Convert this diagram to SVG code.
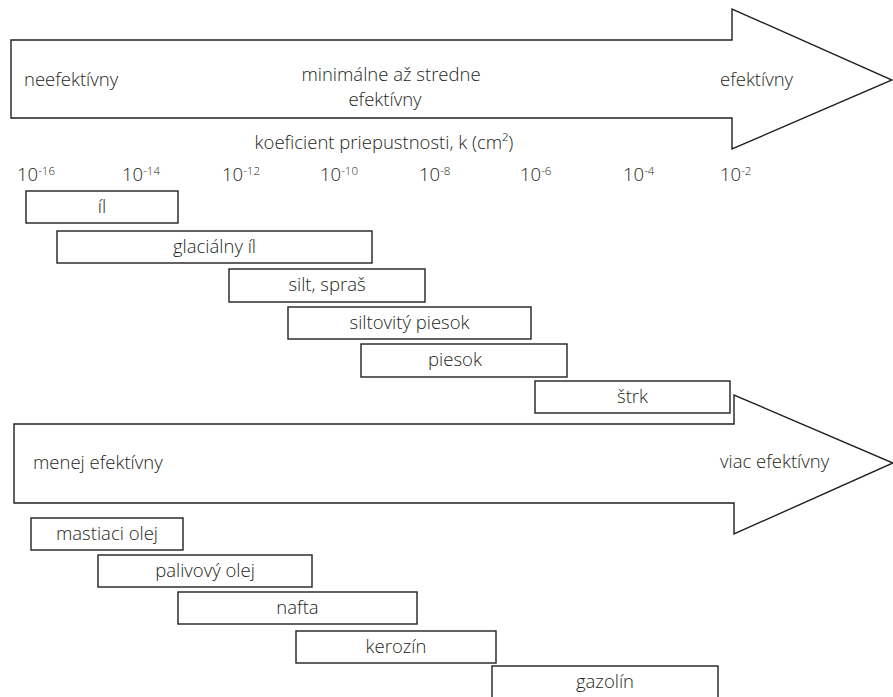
<svg xmlns="http://www.w3.org/2000/svg" width="893" height="697" viewBox="0 0 893 697">
  <style>
    .shape { fill: #ffffff; stroke: #231f20; stroke-width: 1.4; stroke-linejoin: miter; }
    text { font-family: "Open Sans", "Noto Sans", "Liberation Sans", sans-serif; font-weight: 300; font-size: 18.5px; fill: #231f20; }
    .c { text-anchor: middle; }
    .sup { font-size: 11.5px; }
  </style>
  <rect width="893" height="697" fill="#ffffff"/>

  <!-- upper scale: effectiveness arrow -->
  <g id="arrow-top">
    <path class="shape" d="M11,40 H732 V9 L892,80 L732,149 V118 H11 Z"/>
    <text x="24" y="86">neefektívny</text>
    <text class="c" x="391" y="81">minimálne až stredne</text>
    <text class="c" x="385" y="106">efektívny</text>
    <text x="720" y="86">efektívny</text>
  </g>

  <!-- permeability axis -->
  <g id="axis">
    <text class="c" x="384" y="149">koeficient priepustnosti, k (cm²)</text>
    <text x="17" y="181">10<tspan class="sup" dy="-6">-16</tspan></text>
    <text x="122" y="181">10<tspan class="sup" dy="-6">-14</tspan></text>
    <text x="222" y="181">10<tspan class="sup" dy="-6">-12</tspan></text>
    <text x="320" y="181">10<tspan class="sup" dy="-6">-10</tspan></text>
    <text x="419" y="181">10<tspan class="sup" dy="-6">-8</tspan></text>
    <text x="520" y="181">10<tspan class="sup" dy="-6">-6</tspan></text>
    <text x="623" y="181">10<tspan class="sup" dy="-6">-4</tspan></text>
    <text x="720" y="181">10<tspan class="sup" dy="-6">-2</tspan></text>
  </g>

  <!-- soil ranges -->
  <g id="il">
    <rect class="shape" x="26" y="191" width="152" height="32"/>
    <text class="c" x="102" y="213">íl</text>
  </g>
  <g id="glacialny-il">
    <rect class="shape" x="57" y="231" width="315" height="32"/>
    <text class="c" x="214.5" y="253">glaciálny íl</text>
  </g>
  <g id="silt-spras">
    <rect class="shape" x="229" y="269" width="196" height="33"/>
    <text class="c" x="327" y="291">silt, spraš</text>
  </g>
  <g id="siltovity-piesok">
    <rect class="shape" x="288" y="307" width="243" height="32"/>
    <text class="c" x="409.5" y="329">siltovitý piesok</text>
  </g>
  <g id="piesok">
    <rect class="shape" x="361" y="344" width="206" height="33"/>
    <text class="c" x="455" y="366">piesok</text>
  </g>
  <g id="strk">
    <rect class="shape" x="535" y="381" width="195" height="32"/>
    <text class="c" x="632.5" y="403">štrk</text>
  </g>

  <!-- lower scale: effectiveness arrow -->
  <g id="arrow-bottom">
    <path class="shape" d="M14,424 H734 V395 L893,463 L734,534 V503 H14 Z"/>
    <text x="33" y="469">menej efektívny</text>
    <text x="720" y="468">viac efektívny</text>
  </g>

  <!-- fluid ranges -->
  <g id="mastiaci-olej">
    <rect class="shape" x="31" y="518" width="152" height="32"/>
    <text class="c" x="107" y="540">mastiaci olej</text>
  </g>
  <g id="palivovy-olej">
    <rect class="shape" x="98" y="555" width="214" height="32"/>
    <text class="c" x="205" y="577">palivový olej</text>
  </g>
  <g id="nafta">
    <rect class="shape" x="178" y="592" width="239" height="32"/>
    <text class="c" x="297.5" y="614">nafta</text>
  </g>
  <g id="kerozin">
    <rect class="shape" x="296" y="631" width="200" height="32"/>
    <text class="c" x="396" y="653">kerozín</text>
  </g>
  <g id="gazolin">
    <rect class="shape" x="492" y="666" width="226" height="32"/>
    <text class="c" x="605" y="688">gazolín</text>
  </g>
</svg>
